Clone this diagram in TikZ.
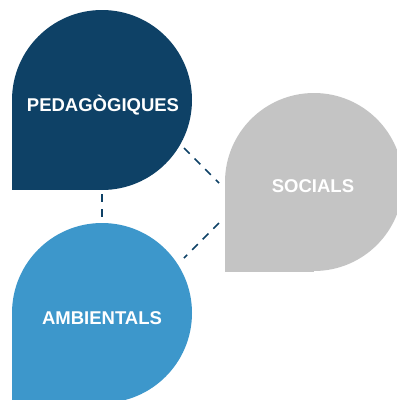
\documentclass[tikz,border=0pt]{standalone}
\usepackage{fontspec}
\setmainfont{Liberation Sans}
\definecolor{dkblue}{HTML}{0E4166}
\definecolor{ltblue}{HTML}{3D97CB}
\definecolor{greyc}{HTML}{C4C4C4}
\begin{document}
\begin{tikzpicture}[x=1pt,y=-1pt,
  lbl/.style={text=white,font=\fontsize{18.5}{20}\selectfont\bfseries,inner sep=0pt},
  link/.style={draw=dkblue,line width=1.5pt,dash pattern=on 8pt off 7pt}]
\useasboundingbox (0,0) rectangle (397,400);
\clip (0,0) rectangle (397,400);
% shapes
\fill[dkblue] (102,100) circle[radius=90];
\fill[dkblue] (12,100) rectangle (102,190);
\fill[greyc] (314,182) circle[radius=89];
\fill[greyc] (225,182) rectangle (314,272);
\fill[ltblue] (102,313) circle[radius=90];
\fill[ltblue] (12,313) rectangle (102,403);
% labels
\node[lbl] (ped) at (103,105) {PEDAGÒGIQUES};
\node[lbl] (soc) at (313,186) {SOCIALS};
\node[lbl] (amb) at (102,318) {AMBIENTALS};
% connector end points
\coordinate (pv) at (102,194);
\coordinate (av) at (102,222);
\coordinate (pd) at (184,148);
\coordinate (sd1) at (219,183);
\coordinate (sd2) at (219,223);
\coordinate (ad) at (184,258);
\draw[link] (pv) -- (av);
\draw[link] (pd) -- (sd1);
\draw[link] (sd2) -- (ad);
\end{tikzpicture}
\end{document}
